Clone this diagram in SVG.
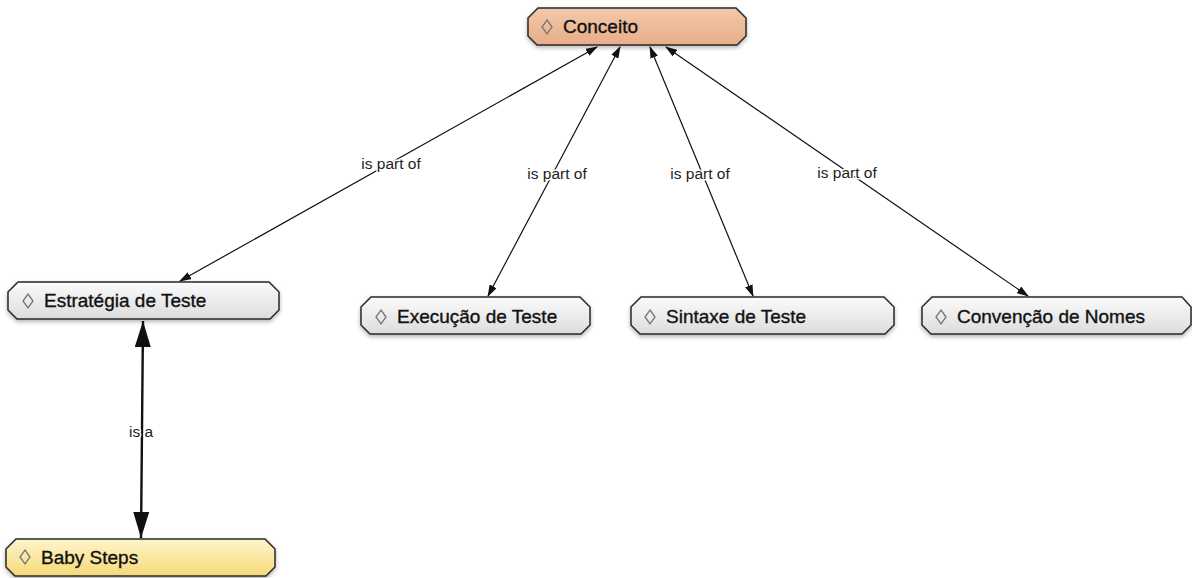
<svg xmlns="http://www.w3.org/2000/svg" width="1192" height="578" viewBox="0 0 1192 578">
<style>
.node{stroke:#2a2a2a;stroke-width:1.5}
.lbl{font-family:"Liberation Sans",Arial,sans-serif;font-size:19px;fill:#111;stroke:#111;stroke-width:0.35}
.icon{fill:none;stroke:#777;stroke-width:1.3}
.edge{stroke:#111;stroke-width:1.2;fill:none}
.thick{stroke:#111;stroke-width:2.4;fill:none}
.elbl{font-family:"Liberation Sans",Arial,sans-serif;font-size:15.5px;fill:#222;stroke:#fff;stroke-width:3;paint-order:stroke;stroke-linejoin:round}
</style>
<defs>
<linearGradient id="gOrange" x1="0" y1="0" x2="0" y2="1"><stop offset="0" stop-color="#F3C9AB"/><stop offset="1" stop-color="#E8AD88"/></linearGradient>
<linearGradient id="gGray" x1="0" y1="0" x2="0" y2="1"><stop offset="0" stop-color="#FBFBFB"/><stop offset="1" stop-color="#DCDCDC"/></linearGradient>
<linearGradient id="gYellow" x1="0" y1="0" x2="0" y2="1"><stop offset="0" stop-color="#FFF5CC"/><stop offset="1" stop-color="#F5D978"/></linearGradient>
<filter id="sh" x="-10%" y="-30%" width="120%" height="180%"><feDropShadow dx="0" dy="2" stdDeviation="2" flood-color="#000" flood-opacity="0.3"/></filter>
<marker id="ah" markerWidth="12" markerHeight="8" refX="11" refY="4" orient="auto-start-reverse" markerUnits="userSpaceOnUse"><path d="M0,0 L12,4 L0,8 Z" fill="#111"/></marker>
<marker id="ahb" markerWidth="26" markerHeight="16" refX="26" refY="8" orient="auto-start-reverse" markerUnits="userSpaceOnUse"><path d="M0,0 L26,8 L0,16 Z" fill="#111"/></marker>
</defs>
<g id="connectors">
<line class="edge" x1="597" y1="47" x2="180" y2="281" marker-start="url(#ah)" marker-end="url(#ah)"/>
<line class="edge" x1="620" y1="47" x2="488" y2="296" marker-start="url(#ah)" marker-end="url(#ah)"/>
<line class="edge" x1="650" y1="47" x2="753" y2="296" marker-start="url(#ah)" marker-end="url(#ah)"/>
<line class="edge" x1="666" y1="47" x2="1028" y2="296" marker-start="url(#ah)" marker-end="url(#ah)"/>
<line class="thick" x1="143" y1="321" x2="141" y2="538" marker-start="url(#ahb)" marker-end="url(#ahb)"/>
<text class="elbl" x="391" y="169" text-anchor="middle">is part of</text>
<text class="elbl" x="557" y="179" text-anchor="middle">is part of</text>
<text class="elbl" x="700" y="179" text-anchor="middle">is part of</text>
<text class="elbl" x="847" y="178" text-anchor="middle">is part of</text>
<text class="elbl" x="141" y="437" text-anchor="middle">is a</text>
</g>
<g id="n-conceito">
<path class="node" filter="url(#sh)" fill="url(#gOrange)" d="M538,8 H736 L746,18 V36 L737,45 H537 L528,36 V18 Z"/>
<path class="icon" d="M547,20 L552,27 L547,34 L542,27 Z"/>
<text class="lbl" x="563" y="33">Conceito</text>
</g>
<g id="n-estrategia">
<path class="node" filter="url(#sh)" fill="url(#gGray)" d="M18,282 H269 L279,292 V310 L270,319 H17 L8,310 V292 Z"/>
<path class="icon" d="M28,294 L33,301 L28,308 L23,301 Z"/>
<text class="lbl" x="44" y="307">Estratégia de Teste</text>
</g>
<g id="n-execucao">
<path class="node" filter="url(#sh)" fill="url(#gGray)" d="M371,297 H580 L590,307 V325 L581,334 H370 L361,325 V307 Z"/>
<path class="icon" d="M381,310 L386,317 L381,324 L376,317 Z"/>
<text class="lbl" x="397" y="323">Execução de Teste</text>
</g>
<g id="n-sintaxe">
<path class="node" filter="url(#sh)" fill="url(#gGray)" d="M641,297 H884 L894,307 V325 L885,334 H640 L631,325 V307 Z"/>
<path class="icon" d="M650,310 L655,317 L650,324 L645,317 Z"/>
<text class="lbl" x="666" y="323">Sintaxe de Teste</text>
</g>
<g id="n-convencao">
<path class="node" filter="url(#sh)" fill="url(#gGray)" d="M932,297 H1182 L1191,307 V325 L1182,334 H931 L922,325 V307 Z"/>
<path class="icon" d="M941,310 L946,317 L941,324 L936,317 Z"/>
<text class="lbl" x="957" y="323">Convenção de Nomes</text>
</g>
<g id="n-babysteps">
<path class="node" filter="url(#sh)" fill="url(#gYellow)" d="M16,539 H265 L275,549 V567 L266,576 H15 L6,567 V549 Z"/>
<path class="icon" d="M25,550 L30,557 L25,564 L20,557 Z"/>
<text class="lbl" x="41" y="564">Baby Steps</text>
</g>
</svg>
